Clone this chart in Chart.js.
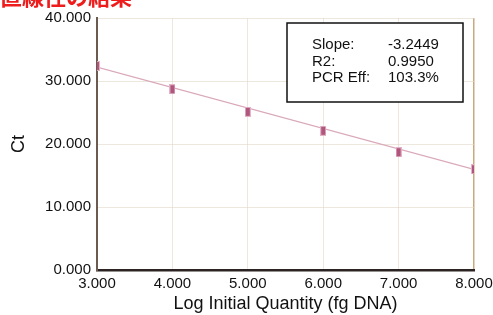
<!DOCTYPE html>
<html>
<head>
<meta charset="utf-8">
<script src="https://cdn.jsdelivr.net/npm/chart.js@4"></script>
<style>
  html, body { margin: 0; padding: 0; background: #fff; }
  #wrap { width: 493px; height: 315px; position: relative; }
</style>
</head>
<body>
<div id="wrap"><canvas id="stdCurve" width="493" height="315"></canvas></div>
<script>
// ---- data ----
const logQty = [3, 4, 5, 6, 7, 8];
const ctValues = [32.4, 28.7, 25.1, 22.1, 18.7, 16.0];
const fitX = [3, 8];
const fitY = [32.2, 15.98];
const xTicks = [3, 4, 5, 6, 7, 8];
const yTicks = [0, 10, 20, 30, 40];
const statLabels = ['Slope:', 'R2:', 'PCR Eff:'];
const statValues = ['-3.2449', '0.9950', '103.3%'];

// small vertical bar used as the point marker
const marker = document.createElement('canvas');
marker.width = 6; marker.height = 10;
(function () {
  const m = marker.getContext('2d');
  m.fillStyle = '#e2b4c6';
  m.fillRect(0, 0, 6, 10);
  m.fillStyle = '#b0557e';
  m.fillRect(1, 1, 4, 8);
})();

const overlay = {
  id: 'overlay',
  afterDraw(chart) {
    const c = chart.ctx;
    c.save();
    // title, cut at the top edge
    c.fillStyle = '#ee1c1c';
    c.font = 'bold 22px "Noto Sans CJK JP"';
    c.textBaseline = 'alphabetic';
    c.textAlign = 'left';
    c.fillText('直線性の結果', 0, 5);
    // stats box
    c.fillStyle = '#fff';
    c.fillRect(287, 23, 176, 79);
    c.strokeStyle = '#111';
    c.lineWidth = 1.5;
    c.strokeRect(287, 23, 176, 79);
    c.fillStyle = '#111';
    c.font = '15px "Liberation Sans", Arial';
    c.textBaseline = 'middle';
    statLabels.forEach((t, i) => {
      c.fillText(t, 312, 45 + i * 16.6);
      c.fillText(statValues[i], 388, 45 + i * 16.6);
    });
    c.restore();
  }
};

const ctx = document.getElementById('stdCurve').getContext('2d');
new Chart(ctx, {
  type: 'scatter',
  data: {
    datasets: [
      {
        type: 'line',
        data: fitX.map((x, i) => ({ x: x, y: fitY[i] })),
        borderColor: '#d9a9ba',
        borderWidth: 1.3,
        pointRadius: 0,
        fill: false,
        order: 2
      },
      {
        data: logQty.map((x, i) => ({ x: x, y: ctValues[i] })),
        pointStyle: marker,
        pointRadius: 4,
        order: 1
      }
    ]
  },
  options: {
    responsive: false,
    animation: false,
    events: [],
    layout: { padding: { left: 4, right: 19, top: 18, bottom: 0 } },
    plugins: { legend: { display: false }, tooltip: { enabled: false } },
    scales: {
      x: {
        type: 'linear',
        min: 3, max: 8,
        afterBuildTicks: (s) => { s.ticks = xTicks.map(v => ({ value: v })); },
        afterFit: (s) => { s.height = 45; s.paddingLeft = 0; s.paddingRight = 0; },
        ticks: {
          callback: (v) => v.toFixed(3),
          color: '#111',
          font: { family: '"Liberation Sans", Arial', size: 15 },
          padding: 5,
          maxRotation: 0
        },
        grid: {
          color: (c) => c.index === xTicks.length - 1 ? '#c8ab7c' : 'rgba(225,212,195,0.55)',
          lineWidth: (c) => c.index === xTicks.length - 1 ? 1.5 : 1,
          drawTicks: false
        },
        border: { color: '#2b2422', width: 2.5 },
        title: {
          display: true,
          text: 'Log Initial Quantity (fg DNA)',
          color: '#111',
          font: { family: '"Liberation Sans", Arial', size: 18 },
          padding: { top: 0, bottom: 0 }
        }
      },
      y: {
        min: 0, max: 40,
        afterBuildTicks: (s) => { s.ticks = yTicks.map(v => ({ value: v })); },
        afterFit: (s) => { s.width = 93; },
        ticks: {
          callback: (v) => v.toFixed(3),
          color: '#111',
          font: { family: '"Liberation Sans", Arial', size: 15 },
          padding: 6
        },
        grid: {
          color: 'rgba(225,215,200,0.6)',
          drawTicks: false
        },
        border: { color: '#6b5a50', width: 2 },
        title: {
          display: true,
          text: 'Ct',
          color: '#111',
          font: { family: '"Liberation Sans", Arial', size: 18 },
          padding: { top: 4, bottom: 0 }
        }
      }
    }
  },
  plugins: [overlay]
});
</script>
</body>
</html>
